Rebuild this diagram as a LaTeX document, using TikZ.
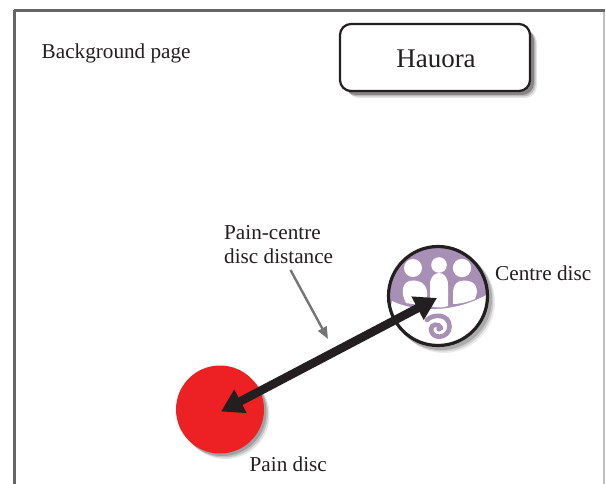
\documentclass[tikz,border=0pt]{standalone}
\usepackage{fontspec}
\setmainfont{Liberation Serif}
\usetikzlibrary{arrows.meta}
\definecolor{inkc}{HTML}{231F20}
\definecolor{painred}{HTML}{ED2024}
\definecolor{logop}{HTML}{A88FB5}
\definecolor{framec}{HTML}{666666}
\tikzset{
  lbl/.style={font=\fontsize{21.2}{24}\selectfont, text=inkc, inner sep=0pt, align=left},
  bigarrow/.style={draw=inkc, line width=8.5pt, {Triangle[length=22pt,width=25pt]}-{Triangle[length=22pt,width=25pt]}},
  thinarrow/.style={draw=framec!90!white, line width=2.4pt, -{Triangle[length=12pt,width=9.5pt]}}
}
\begin{document}
\begin{tikzpicture}[x=1pt,y=-1pt]
\useasboundingbox (0,0) rectangle (606,484);
\fill[white] (0,0) rectangle (606,484);
% frame
\draw[black!25, line width=1.2pt] (604,10) -- (604,484);
\draw[black!60, line width=2.4pt] (14.5,484) -- (14.5,10);
\draw[framec, line width=2.4pt] (13.5,10.5) -- (604.5,10.5);
% Hauora box shadow
\foreach \d/\o in {7/0.10,5.5/0.18,4/0.28}{
  \fill[black, opacity=\o, rounded corners=12pt] (340+\d,24+\d) rectangle (530+\d,91+\d);
}
\node[draw=inkc, line width=2.2pt, fill=white, rounded corners=11pt, minimum width=190pt, minimum height=67pt, inner sep=0pt] (hauora) at (435,57.5) {};
\node[lbl, align=center, font=\fontsize{27}{30}\selectfont] (hauoratext) at (436,59) {Hauora};
\node[lbl, anchor=west] (bg) at (41.5,53.5) {Background page};
% pain disc
\foreach \d/\o in {5.5/0.10,4/0.14,2.5/0.18}{
  \fill[black, opacity=\o] (220+\d,409.5+\d) circle (44);
}
\node[circle, fill=painred, minimum size=88pt, inner sep=0pt] (pain) at (220,409.5) {};
\coordinate (paintip) at (221,411.5);
% centre disc
\foreach \d/\o in {6/0.08,4.5/0.12,3/0.16}{
  \fill[black, opacity=\o] (438+\d,296+\d) circle (51);
}
\node[circle, fill=logop, minimum size=100pt, inner sep=0pt] (centre) at (438,296) {};
\begin{scope}
  \clip (438,296) circle (49);
  \fill[white] (392,301) .. controls (410,310) and (450,316) .. (488,294) -- (495,360) -- (380,360) -- cycle;
\end{scope}
\fill[white] (439,265) circle (7.8);
\fill[white] (413,268) circle (9);
\fill[white] (462,268) circle (9.2);
% bodies
\fill[white] (430,306) -- (430,285) .. controls (430,269) and (448,269) .. (448,285) -- (448,306) .. controls (442,308) and (436,308) .. (430,306) -- cycle;
\fill[white] (406,303) .. controls (400,292) and (402,280) .. (414,280.5) .. controls (424,281) and (428,288) .. (427,296) -- (426,305) .. controls (419,305) and (412,304) .. (406,303) -- cycle;
\fill[white] (453,304) -- (453,292) .. controls (453,285) and (457,280.5) .. (464,280.5) .. controls (477,280.5) and (479,290) .. (475,299) .. controls (468,302) and (460,304) .. (453,304) -- cycle;
% koru
\draw[logop, line width=4.6pt, line cap=round] (427,320) .. controls (432,314) and (450,313) .. (449.5,327) .. controls (449,339) and (431,340) .. (431,329) .. controls (431,324) and (439,323) .. (441,328);
\fill[logop] (439,329) circle (2.6);
\draw[inkc, line width=3.2pt] (438,296) circle (49.5);
\coordinate (centretip) at (437,298);
% arrow
\draw[bigarrow] (paintip) -- (centretip);
% labels
\node[lbl, anchor=north west, font=\fontsize{21.2}{24.5}\selectfont] (dist) at (224,225) {Pain-centre\\disc distance};
\coordinate (dstart) at (290.5,270);
\coordinate (dend) at (328,339);
\draw[thinarrow] (dstart) -- (dend);
\node[lbl, anchor=west] (cl) at (495,273.5) {Centre disc};
\node[lbl, anchor=west] (pl) at (249.5,464) {Pain disc};
\end{tikzpicture}
\end{document}
